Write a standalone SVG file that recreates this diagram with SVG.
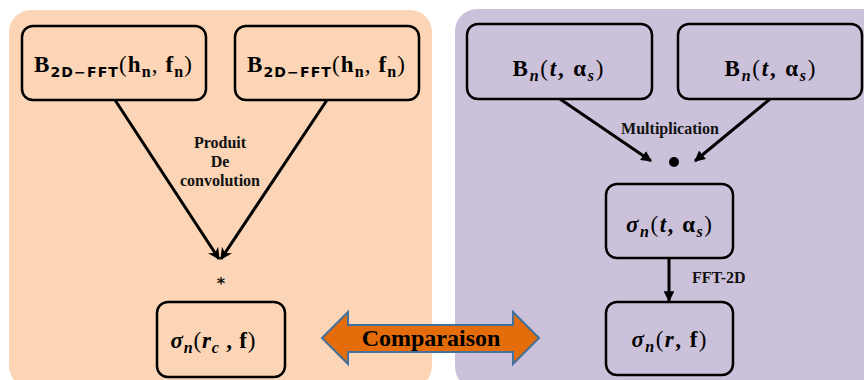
<svg xmlns="http://www.w3.org/2000/svg" width="864" height="380" viewBox="0 0 864 380">
<style>
.panel{stroke:none}
.box{fill:none;stroke:#000;stroke-width:2.5}
.m{font-family:"Liberation Serif",serif;font-weight:bold;font-size:23px;fill:#000;text-anchor:middle}
.ss{font-family:"DejaVu Sans","Liberation Sans",sans-serif;font-weight:bold;font-size:14px}
.sub{font-size:16px}
.it{font-style:italic}
.lbl{font-family:"Liberation Serif",serif;font-weight:bold;font-size:16px;fill:#111;text-anchor:middle}
.conn{stroke:#000;stroke-width:3;fill:none}
</style>
<defs>
<marker id="ah" viewBox="0 0 10 10" refX="9" refY="5" markerWidth="4" markerHeight="4" orient="auto" markerUnits="strokeWidth">
<path d="M0,0 L10,5 L0,10 L3,5 z" fill="#000"/>
</marker>
<marker id="af" viewBox="0 0 10 10" refX="9" refY="5" markerWidth="3.6" markerHeight="3.6" orient="auto" markerUnits="strokeWidth">
<path d="M0,0 L10,5 L0,10 z" fill="#000"/>
</marker>
</defs>
<rect class="panel" x="9" y="10" width="423" height="378" rx="22" fill="#FBD5B5"/>
<rect class="panel" x="455" y="9" width="430" height="380" rx="22" fill="#CCC1DA"/>

<g id="connectors">
<line class="conn" x1="115" y1="100" x2="219" y2="259" marker-end="url(#ah)"/>
<line class="conn" x1="327" y1="100" x2="221" y2="259" marker-end="url(#ah)"/>
<line class="conn" x1="560" y1="99" x2="651" y2="161" marker-end="url(#af)"/>
<line class="conn" x1="770" y1="99" x2="695" y2="161" marker-end="url(#af)"/>
<line class="conn" x1="669" y1="258" x2="669" y2="301" marker-end="url(#af)"/>
<text class="lbl" x="220" y="148">Produit</text>
<text class="lbl" x="220" y="167">De</text>
<text class="lbl" x="220" y="186">convolution</text>
<text x="221" y="289" font-family="DejaVu Sans,sans-serif" font-weight="bold" font-size="16" text-anchor="middle" fill="#111">*</text>
<circle cx="674" cy="162" r="5" fill="#000"/>
<text class="lbl" x="670" y="134">Multiplication</text>
<text class="lbl" x="692" y="283" style="text-anchor:start">FFT-2D</text>
</g>

<g id="b1">
<rect class="box" x="22" y="26" width="184" height="74" rx="11"/>
<text class="m" x="113" y="72" textLength="158" lengthAdjust="spacing">B<tspan class="ss" dy="5">2D−FFT</tspan><tspan dy="-5" font-weight="normal">(</tspan>h<tspan class="sub" dy="5">n</tspan><tspan dy="-5" font-weight="normal">,</tspan> f<tspan class="sub" dy="5">n</tspan><tspan dy="-5" font-weight="normal">)</tspan></text>
</g>
<g id="b2">
<rect class="box" x="235" y="26" width="184" height="74" rx="11"/>
<text class="m" x="326" y="72" textLength="158" lengthAdjust="spacing">B<tspan class="ss" dy="5">2D−FFT</tspan><tspan dy="-5" font-weight="normal">(</tspan>h<tspan class="sub" dy="5">n</tspan><tspan dy="-5" font-weight="normal">,</tspan> f<tspan class="sub" dy="5">n</tspan><tspan dy="-5" font-weight="normal">)</tspan></text>
</g>
<g id="s1">
<rect class="box" x="157" y="302" width="128" height="75" rx="11"/>
<text class="m" x="213" y="348" textLength="85" lengthAdjust="spacing"><tspan class="it">σ</tspan><tspan class="it sub" dy="5">n</tspan><tspan dy="-5" font-weight="normal">(</tspan><tspan class="it">r</tspan><tspan class="it sub" dy="5">c</tspan><tspan dy="-5"> , f</tspan><tspan font-weight="normal">)</tspan></text>
</g>
<g id="b3">
<rect class="box" x="467" y="24" width="185" height="75" rx="11"/>
<text class="m" x="558" y="76" textLength="91" lengthAdjust="spacing">B<tspan class="it sub" dy="5">n</tspan><tspan dy="-5" font-weight="normal">(</tspan><tspan class="it">t</tspan>, α<tspan class="it sub" dy="5">s</tspan><tspan dy="-5" font-weight="normal">)</tspan></text>
</g>
<g id="b4">
<rect class="box" x="678" y="24" width="184" height="75" rx="11"/>
<text class="m" x="770" y="76" textLength="91" lengthAdjust="spacing">B<tspan class="it sub" dy="5">n</tspan><tspan dy="-5" font-weight="normal">(</tspan><tspan class="it">t</tspan>, α<tspan class="it sub" dy="5">s</tspan><tspan dy="-5" font-weight="normal">)</tspan></text>
</g>
<g id="s2">
<rect class="box" x="606" y="184" width="127" height="74" rx="11"/>
<text class="m" x="669" y="232" textLength="86" lengthAdjust="spacing"><tspan class="it">σ</tspan><tspan class="it sub" dy="5">n</tspan><tspan dy="-5" font-weight="normal">(</tspan><tspan class="it">t</tspan>, α<tspan class="it sub" dy="5">s</tspan><tspan dy="-5" font-weight="normal">)</tspan></text>
</g>
<g id="s3">
<rect class="box" x="606" y="302" width="127" height="73" rx="11"/>
<text class="m" x="669" y="347" textLength="75" lengthAdjust="spacing"><tspan class="it">σ</tspan><tspan class="it sub" dy="5">n</tspan><tspan dy="-5" font-weight="normal">(</tspan><tspan class="it">r</tspan>, f<tspan font-weight="normal">)</tspan></text>
</g>
<g id="cmp">
<polygon points="322,338 348,312 348,325 513,325 513,312 539,338 513,364 513,352 348,352 348,364" fill="#E46C0A" stroke="#41719C" stroke-width="2" stroke-linejoin="miter"/>
<text x="431" y="346" font-family="Liberation Serif,serif" font-weight="bold" font-size="24" text-anchor="middle" fill="#000">Comparaison</text>
</g>
</svg>
